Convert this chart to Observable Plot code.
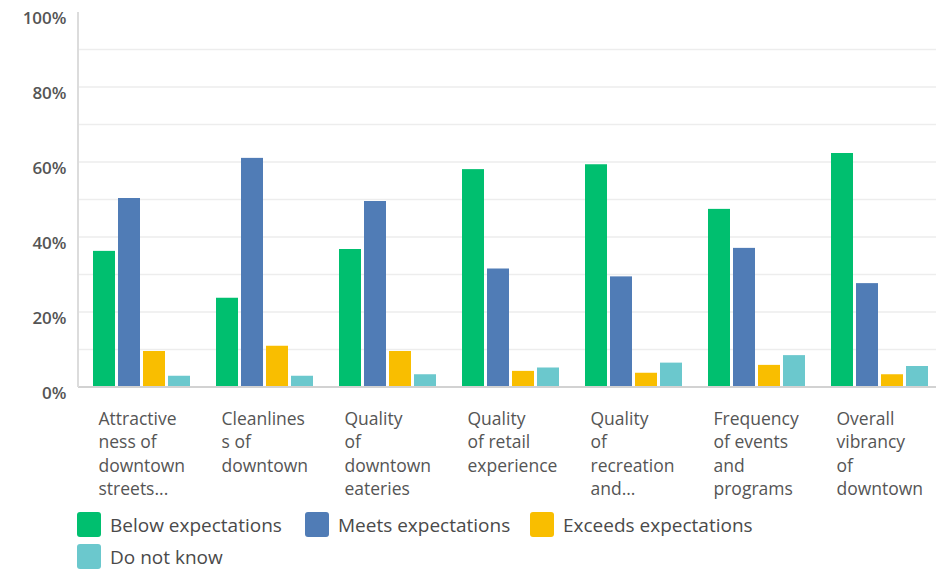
<!DOCTYPE html>
<html>
<head>
<meta charset="utf-8">
<script src="https://cdn.jsdelivr.net/npm/d3@7"></script>
<script src="https://cdn.jsdelivr.net/npm/@observablehq/plot@0.6"></script>
<style>
  html, body { margin: 0; padding: 0; background: #fff; }
  body { width: 936px; height: 569px; overflow: hidden; font-family: "Open Sans", sans-serif; }
  #chart svg { display: block; }
  .legend { padding-left: 77px; margin-top: 7px; color: #4a4a4a; font-size: 19px; }
  .row { display: flex; height: 32px; align-items: flex-start; }
  .item { display: flex; align-items: center; height: 25px; }
  .sw { width: 24px; height: 25px; border-radius: 3px; margin-right: 9px; flex: none; }
</style>
</head>
<body>
<div id="chart"></div>
<div class="legend" id="legend"></div>
<script>
const categories = [
  "Attractiveness of downtown streets",
  "Cleanliness of downtown",
  "Quality of downtown eateries",
  "Quality of retail experience",
  "Quality of recreation and",
  "Frequency of events and programs",
  "Overall vibrancy of downtown"
];
const categoryLabels = [
  "Attractive\nness of\ndowntown\nstreets...",
  "Cleanlines\ns of\ndowntown",
  "Quality\nof\ndowntown\neateries",
  "Quality\nof retail\nexperience",
  "Quality\nof\nrecreation\nand...",
  "Frequency\nof events\nand\nprograms",
  "Overall\nvibrancy\nof\ndowntown"
];
const seriesNames = ["Below expectations", "Meets expectations", "Exceeds expectations", "Do not know"];
const below    = [36.3, 23.8, 36.8, 58.1, 59.4, 47.5, 62.4];
const meets    = [50.4, 61.1, 49.6, 31.6, 29.5, 37.1, 27.7];
const exceeds  = [9.6, 11.0, 9.6, 4.3, 3.8, 5.9, 3.4];
const dontKnow = [3.0, 3.0, 3.4, 5.2, 6.5, 8.5, 5.6];
const seriesColors = ["#00bf6f", "#507cb6", "#f9be00", "#6bc8cd"];
const yTicks = [0, 20, 40, 60, 80, 100];
const gridTicks = [10, 20, 30, 40, 50, 60, 70, 80, 90];

const seriesValues = [below, meets, exceeds, dontKnow];
const data = [];
categories.forEach((c, i) => {
  seriesNames.forEach((s, j) => data.push({category: c, series: s, value: seriesValues[j][i]}));
});
const labelData = categories.map((c, i) => ({category: c, label: categoryLabels[i]}));

const W = 936, ML = 78;
const chart = Plot.plot({
  width: W,
  height: 505,
  marginLeft: ML,
  marginRight: 0,
  marginTop: 12,
  marginBottom: 118,
  style: {fontFamily: "'Open Sans', sans-serif", background: "#fff"},
  fx: {domain: categories, range: [78, 942], paddingInner: 0.213, paddingOuter: 0.113, axis: null, label: null},
  x: {domain: seriesNames, paddingInner: 0.13, paddingOuter: 0, axis: null, label: null},
  y: {domain: [0, 100], label: null},
  color: {domain: seriesNames, range: seriesColors},
  marks: [
    Plot.barY(data, {fx: "category", x: "series", y: "value", fill: "series"}),
    Plot.axisY({ticks: yTicks, tickFormat: d => d + "%", tickSize: 0, tickPadding: 27, dy: 6, fontSize: 17, fontWeight: 600, fill: "#555", label: null}),
    Plot.text(labelData, {fx: "category", text: "label", frameAnchor: "bottom-left", textAnchor: "start", lineAnchor: "top", dx: 5, dy: 21, lineHeight: 1.33, fontSize: 17.5, fill: "#555"})
  ]
});

// Full-width gridlines, baseline and left axis line, positioned with the chart's own y scale
const y = chart.scale("y");
const svg = d3.select(chart);
const back = svg.insert("g", ":first-child");
back.selectAll("line.grid").data(gridTicks).join("line")
  .attr("x1", ML).attr("x2", W)
  .attr("y1", d => y.apply(d)).attr("y2", d => y.apply(d))
  .attr("stroke", "#ededed").attr("stroke-width", 1.5);
const front = svg.append("g");
front.append("line")
  .attr("x1", ML).attr("x2", W)
  .attr("y1", y.apply(0)).attr("y2", y.apply(0))
  .attr("stroke", "#d2d2d2").attr("stroke-width", 2);
front.append("line")
  .attr("x1", ML).attr("x2", ML)
  .attr("y1", y.apply(100)).attr("y2", y.apply(0))
  .attr("stroke", "#dcdcdc").attr("stroke-width", 2);

document.getElementById("chart").append(chart);

const legend = document.getElementById("legend");
const rows = [[0, 1, 2], [3]];
const itemWidths = [228, 225, 260, 260];
rows.forEach(r => {
  const row = document.createElement("div");
  row.className = "row";
  r.forEach(j => {
    const it = document.createElement("div");
    it.className = "item";
    it.style.width = itemWidths[j] + "px";
    const sw = document.createElement("span");
    sw.className = "sw";
    sw.style.background = seriesColors[j];
    const t = document.createElement("span");
    t.textContent = seriesNames[j];
    it.append(sw, t);
    row.append(it);
  });
  legend.append(row);
});
</script>
</body>
</html>
